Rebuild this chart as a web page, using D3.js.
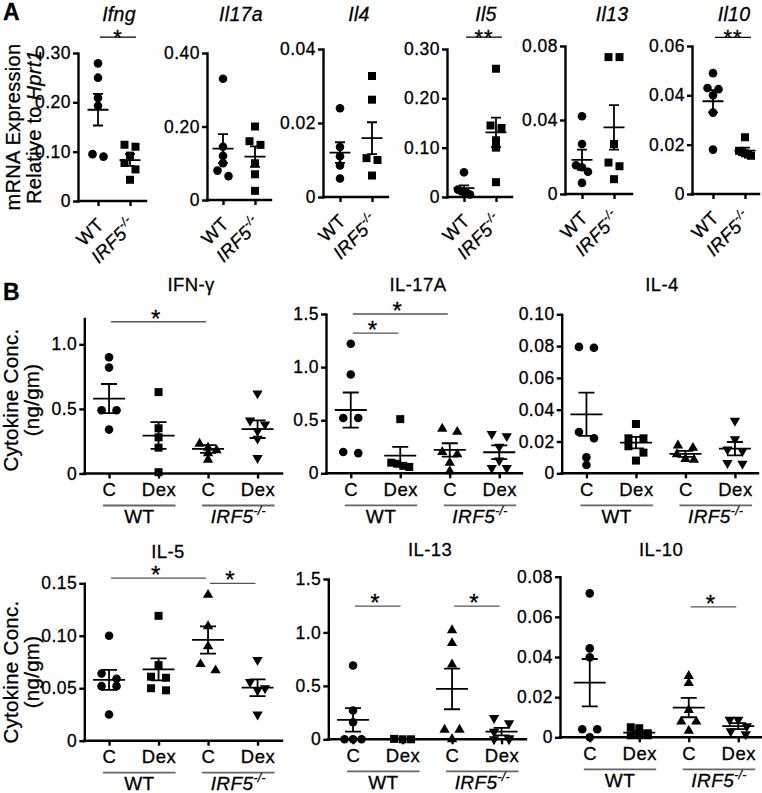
<!DOCTYPE html>
<html><head><meta charset="utf-8">
<script src="https://cdn.jsdelivr.net/npm/d3@7"></script>
<style>
body{margin:0;background:#fff}
svg text{font-family:"Liberation Sans",Arial,Helvetica,sans-serif;fill:#000;stroke:#000;stroke-width:0.3px}
</style></head><body>
<svg id="chart" width="762" height="793"></svg>
<script>
// ================= DATA: panel A (mRNA expression relative to Hprt1) =================
const aGenes = ["Ifng","Il17a","Il4","Il5","Il13","Il10"];
const aGroups = ["WT","IRF5"];
const aTickLabels = [["0","0.10","0.20","0.30"],["0","0.20","0.40"],["0","0.02","0.04"],["0","0.10","0.20","0.30"],["0","0.04","0.08"],["0","0.02","0.04","0.06"]];
const aWT = [
  [0.279,0.250,0.209,0.193,0.095,0.090],
  [0.330,0.145,0.120,0.100,0.080,0.065],
  [0.024,0.0135,0.011,0.0085,0.005],
  [0.050,0.015,0.012,0.010,0.008,0.005],
  [0.042,0.027,0.0155,0.0145,0.012,0.006],
  [0.049,0.043,0.0425,0.040,0.033,0.018]
];
const aKO = [
  [0.114,0.110,0.092,0.077,0.064,0.043],
  [0.200,0.160,0.150,0.100,0.070,0.025],
  [0.0327,0.0263,0.0105,0.0100,0.0058],
  [0.260,0.145,0.140,0.115,0.100,0.030],
  [0.074,0.074,0.027,0.017,0.015,0.008],
  [0.023,0.0175,0.017,0.0165,0.016,0.0155]
];
const aMeanWT = [0.185,0.140,0.012,0.018,0.0185,0.0376];
const aSemWT  = [0.032,0.039,0.0028,0.0055,0.0055,0.0045];
const aMeanKO = [0.083,0.118,0.0159,0.131,0.036,0.0176];
const aSemKO  = [0.012,0.028,0.0043,0.030,0.012,0.0012];
const aSig = ["*","","","**","","**"];
const aSigLevel = [0.332,null,null,0.324,null,0.0635];

// ================= DATA: panel B (cytokine concentration, ng/gm) =================
const bTitles = ["IFN-γ","IL-17A","IL-4","IL-5","IL-13","IL-10"];
const bCats = ["WT C","WT Dex","KO C","KO Dex"];
const bCatLabels = ["C","Dex","C","Dex"];
const bYMax = [1.2,1.5,0.10,0.15,1.5,0.08];
const bTickLabels = [["0","0.5","1.0"],["0","0.5","1.0","1.5"],["0","0.02","0.04","0.06","0.08","0.10"],["0","0.05","0.10","0.15"],["0","0.5","1.0","1.5"],["0","0.02","0.04","0.06","0.08"]];
const bWTC = [
  [0.90,0.82,0.49,0.49,0.34],
  [1.22,0.93,0.52,0.52,0.20,0.19],
  [0.0795,0.079,0.026,0.022,0.010,0.0052],
  [0.100,0.064,0.059,0.052,0.052,0.025],
  [0.69,0.27,0.16,0,0,0],
  [0.0717,0.0443,0.0398,0.004,0.004,0.0]
];
const bWTDex = [
  [0.63,0.35,0.28,0.20,0.01],
  [0.51,0.10,0.09,0.07,0.06],
  [0.031,0.022,0.022,0.017,0.013,0.008],
  [0.119,0.072,0.061,0.060,0.050,0.048],
  [0.004,0.0,0.0],
  [0.005,0.0045,0.002,0.001,0.001,0.001]
];
const bKOC = [
  [0.23,0.20,0.18,0.157,0.106],
  [0.42,0.39,0.20,0.18,0.10,0.02],
  [0.0175,0.016,0.012,0.009,0.0085],
  [0.139,0.109,0.090,0.073,0.067],
  [1.02,0.90,0.70,0.09,0.09,0.0],
  [0.0305,0.027,0.0136,0.0078,0.0078,0.0033]
];
const bKODex = [
  [0.62,0.41,0.38,0.33,0.27,0.12],
  [0.37,0.35,0.25,0.12,0.05,0.05],
  [0.033,0.0215,0.015,0.014,0.0065,0.006],
  [0.077,0.056,0.050,0.048,0.025],
  [0.20,0.15,0.07,0.01,0.0,0.0],
  [0.0087,0.0087,0.0055,0.003,0.0015]
];
const bMeans = [[0.58,0.294,0.19,0.343],[0.596,0.166,0.22,0.198],[0.0371,0.0193,0.0122,0.0155],[0.058,0.068,0.096,0.0505],[0.181,0.0,0.471,0.072],[0.0272,0.0023,0.0148,0.0056]];
const bSems  = [[0.113,0.103,0.03,0.068],[0.165,0.083,0.063,0.065],[0.0136,0.0036,0.0019,0.0042],[0.0095,0.0105,0.013,0.008],[0.11,0,0.19,0.035],[0.0118,0.001,0.0048,0.0015]];
// significance bars: [from category, to category, level (data units), label]
const bSig = [
  [[0,2,1.175,"*"]],
  [[0,1,1.32,"*"],[0,2,1.5,"*"]],
  [],
  [[0,2,0.155,"*"],[2,3,0.15,"*"]],
  [[0,1,1.247,"*"],[2,3,1.247,"*"]],
  [[2,3,0.065,"*"]]
];

// ================= LAYOUT =================
const aLayout = [
  {left:78, top:53, bottom:201, x0:82, x1:146, right:146, tx:119},
  {left:207,top:53, bottom:200, x0:207,x1:271, right:271, tx:241},
  {left:323,top:49, bottom:197, x0:324,x1:388, right:388, tx:359},
  {left:447,top:49, bottom:197, x0:448,x1:512, right:512, tx:486},
  {left:565,top:46, bottom:194, x0:566,x1:630, right:632, tx:612},
  {left:692,top:46, bottom:194, x0:697,x1:761, right:759, tx:734}
];
const bLayout = [
  {left:84.3, top:318.5, bottom:473.5, x0:84.3, x1:282.3, right:282, tx:191, ty:291},
  {left:326,  top:314,   bottom:473.3, x0:326,  x1:524,   right:522, tx:418, ty:291},
  {left:561.7,top:314.3, bottom:473.3, x0:561.7,x1:759.7, right:758, tx:662, ty:291},
  {left:84.3, top:583.3, bottom:740.7, x0:84.3, x1:282.3, right:282, tx:168, ty:558},
  {left:328.3,top:579,   bottom:739.3, x0:328.3,x1:526.3, right:526, tx:430, ty:556},
  {left:560,  top:576.7, bottom:737.3, x0:565,  x1:763,   right:761, tx:661, ty:556}
];

const svg = d3.select("#chart");
const AX = 2.4;
const FF = '"Liberation Sans",Arial,sans-serif';

function swarm(vals, y, cx, sp2, sp3, thr, maxW){
  const pts = vals.map(v=>({v, y:y(v)})).sort((a,b)=>a.y-b.y);
  const rows = [];
  for (const p of pts){
    const last = rows[rows.length-1];
    if (last && Math.abs(p.y-last[0].y) < thr) last.push(p); else rows.push([p]);
  }
  const out = [];
  rows.forEach(r=>{
    const n = r.length, sp = n===2 ? sp2 : Math.min(sp3, maxW/Math.max(1,n-1));
    r.forEach((p,i)=>out.push({x:cx+(i-(n-1)/2)*sp, y:p.y}));
  });
  return out;
}
function styleAxis(sel, fs){
  sel.selectAll(".domain").attr("stroke","#000").attr("stroke-width",AX).attr("stroke-linecap","square");
  sel.selectAll(".tick line").attr("stroke","#000").attr("stroke-width",AX);
  sel.selectAll(".tick text").attr("font-size",fs).attr("letter-spacing","0.5px").attr("font-family",FF);
}
const shapes = {
  circle: d3.symbol(d3.symbolCircle, 58)(),
  square: d3.symbol(d3.symbolSquare, 64)(),
  tri: d3.symbol(d3.symbolTriangle, 46)()
};
function drawPoints(g, pts, shape, rot){
  g.selectAll(null).data(pts).join("path")
    .attr("d", shapes[shape])
    .attr("transform", d=>`translate(${d.x},${d.y})${rot?" rotate(180)":""}`)
    .attr("fill","#000");
}
function meanSem(g, cx, y, m, s, hw, hc){
  const p = d3.path();
  p.moveTo(cx-hw, y(m)); p.lineTo(cx+hw, y(m));
  p.moveTo(cx, y(m+s)); p.lineTo(cx, y(Math.max(0,m-s)));
  p.moveTo(cx-hc, y(m+s)); p.lineTo(cx+hc, y(m+s));
  p.moveTo(cx-hc, y(Math.max(0,m-s))); p.lineTo(cx+hc, y(Math.max(0,m-s)));
  g.append("path").attr("d",p.toString()).attr("stroke","#000").attr("stroke-width",1.8).attr("fill","none");
}

// ================= PANEL A =================
aGenes.forEach((gene,i)=>{
  const L = aLayout[i];
  const ticks = aTickLabels[i].map(Number);
  const y = d3.scaleLinear().domain([0,d3.max(ticks)]).range([L.bottom,L.top]);
  const x = d3.scalePoint().domain(aGroups).range([L.x0,L.x1]).padding(0.5);
  const g = svg.append("g");
  const ya = g.append("g").attr("transform",`translate(${L.left},0)`)
    .call(d3.axisLeft(y).tickValues(ticks).tickFormat((d,j)=>aTickLabels[i][j]).tickSize(5).tickSizeOuter(0).tickPadding(2));
  styleAxis(ya, 17.5);
  const xa = g.append("g").attr("transform",`translate(0,${L.bottom})`)
    .call(d3.axisBottom(x).tickSize(5).tickSizeOuter(0).tickFormat(""));
  xa.select(".domain").attr("d",`M${L.left},0H${L.right}`);
  styleAxis(xa, 17.5);
  // rotated category labels
  aGroups.forEach(gr=>{
    const t = g.append("text").attr("text-anchor","end").attr("font-size",18.5).attr("letter-spacing","0.4px")
      .attr("transform",`translate(${x(gr)+7},${L.bottom+25}) rotate(-45)`);
    if (gr==="WT") t.text("WT");
    else { t.append("tspan").attr("font-style","italic").text("IRF5");
           t.append("tspan").attr("font-style","italic").attr("font-size",12).attr("dy",-8).text("-/-"); }
  });
  // title
  g.append("text").attr("x",L.tx).attr("y",21).attr("text-anchor","middle").attr("font-size",19.5)
    .attr("font-style","italic").attr("letter-spacing","0.3px").text(gene);
  // points
  drawPoints(g, swarm(aWT[i], y, x("WT"), 11, 8.5, 6.5, 12), "circle");
  drawPoints(g, swarm(aKO[i], y, x("IRF5"), 11, 8.5, 6.5, 12), "square");
  meanSem(g, x("WT"), y, aMeanWT[i], aSemWT[i], 10.5, 5);
  meanSem(g, x("IRF5"), y, aMeanKO[i], aSemKO[i], 10.5, 5);
  // significance
  if (aSig[i]){
    const ly = y(aSigLevel[i]);
    g.append("line").attr("x1",x("WT")+2).attr("x2",x("IRF5")+6).attr("y1",ly).attr("y2",ly).attr("stroke","#000").attr("stroke-width",1.2);
    g.append("text").attr("x",(x("WT")+x("IRF5"))/2+4).attr("y",ly+8).attr("text-anchor","middle")
      .attr("font-size",22).attr("letter-spacing","1px").text(aSig[i]);
  }
});
// panel A y label
svg.append("text").attr("transform","translate(20,127) rotate(-90)").attr("text-anchor","middle")
  .attr("font-size",20).attr("letter-spacing","0.3px").text("mRNA Expression");
const yl2 = svg.append("text").attr("transform","translate(41,127) rotate(-90)").attr("text-anchor","middle")
  .attr("font-size",20).attr("letter-spacing","0.3px");
yl2.append("tspan").text("Relative to ");
yl2.append("tspan").attr("font-style","italic").text("Hprt1");
svg.append("text").attr("x",3).attr("y",20).attr("font-size",23).attr("font-weight","bold").text("A");
svg.append("text").attr("x",3).attr("y",300).attr("font-size",23).attr("font-weight","bold").text("B");

// ================= PANEL B =================
const bShapes = [["circle",false],["square",false],["tri",false],["tri",true]];
const bGroups = [bWTC,bWTDex,bKOC,bKODex];
bTitles.forEach((title,i)=>{
  const L = bLayout[i];
  const ticks = bTickLabels[i].map(Number);
  const y = d3.scaleLinear().domain([0,bYMax[i]]).range([L.bottom,L.top]);
  const x = d3.scalePoint().domain(bCats).range([L.x0,L.x1]).padding(0.5);
  const g = svg.append("g");
  const ya = g.append("g").attr("transform",`translate(${L.left},0)`)
    .call(d3.axisLeft(y).tickValues(ticks).tickFormat((d,j)=>bTickLabels[i][j]).tickSize(5).tickSizeOuter(0).tickPadding(2));
  styleAxis(ya, 17.5);
  const xa = g.append("g").attr("transform",`translate(0,${L.bottom})`)
    .call(d3.axisBottom(x).tickSize(5).tickSizeOuter(0).tickFormat((d,j)=>bCatLabels[j]).tickPadding(3));
  xa.select(".domain").attr("d",`M${L.left},0H${L.right}`);
  styleAxis(xa, 18.5);
  xa.selectAll(".tick text").attr("dy","0.78em");
  // group underlines and labels
  [[0,1,"WT"],[2,3,"IRF5"]].forEach(([a,b,lab])=>{
    const xa0 = x(bCats[a])-6, xa1 = x(bCats[b])+17, ly = L.bottom+32;
    g.append("line").attr("x1",xa0).attr("x2",xa1).attr("y1",ly).attr("y2",ly).attr("stroke","#666").attr("stroke-width",1.8);
    const t = g.append("text").attr("x",(xa0+xa1)/2).attr("y",L.bottom+49.5).attr("text-anchor","middle").attr("font-size",19).attr("letter-spacing","0.4px");
    if (lab==="WT") t.text("WT");
    else { t.append("tspan").attr("font-style","italic").text("IRF5");
           t.append("tspan").attr("font-style","italic").attr("font-size",12).attr("dy",-8).text("-/-"); }
  });
  g.append("text").attr("x",L.tx).attr("y",L.ty).attr("text-anchor","middle").attr("font-size",18.5).attr("letter-spacing","0.4px").text(title);
  bGroups.forEach((grp,k)=>{
    drawPoints(g, swarm(grp[i], y, x(bCats[k]), 15, 8.5, 6.5, 18), bShapes[k][0], bShapes[k][1]);
  });
  bGroups.forEach((grp,k)=> meanSem(g, x(bCats[k]), y, bMeans[i][k], bSems[i][k], 16, 8));
  bSig[i].forEach(([a,b,lev,lab])=>{
    const ly = y(lev), x1 = x(bCats[a])+2, x2 = x(bCats[b])-2;
    g.append("line").attr("x1",x1).attr("x2",x2).attr("y1",ly).attr("y2",ly).attr("stroke","#555").attr("stroke-width",1.3);
    g.append("text").attr("x",(x1+x2)/2-3).attr("y",ly+5).attr("text-anchor","middle").attr("font-size",24).text(lab);
  });
});
// panel B y labels
[[400],[672]].forEach(([cy])=>{
  svg.append("text").attr("transform",`translate(18,${cy}) rotate(-90)`).attr("text-anchor","middle")
    .attr("font-size",20.5).attr("letter-spacing","0.3px").text("Cytokine Conc.");
  svg.append("text").attr("transform",`translate(39,${cy}) rotate(-90)`).attr("text-anchor","middle")
    .attr("font-size",20.5).attr("letter-spacing","0.3px").text("(ng/gm)");
});
</script>
</body></html>
